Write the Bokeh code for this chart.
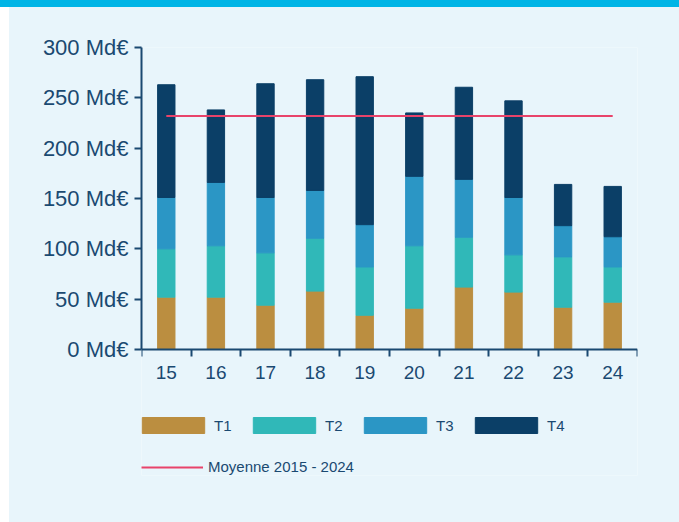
from bokeh.plotting import figure
from bokeh.models import FixedTicker, Legend, LegendItem, ColumnDataSource, Range1d
from bokeh.embed import file_html
from bokeh.resources import INLINE

# ---- data ----
years = ["15", "16", "17", "18", "19", "20", "21", "22", "23", "24"]
quarters = ["T1", "T2", "T3", "T4"]
t1 = [52, 52, 44, 58, 34, 41, 62, 57, 42, 47]
t2 = [48, 51, 52, 52.5, 48, 62, 49.5, 37, 50, 35]
t3 = [51, 63, 55, 47.5, 42, 69, 57.5, 57, 31, 30]
t4 = [112, 72, 113, 110, 147, 63, 91.5, 96, 41, 50]
moyenne = 232
moyenne_label = "Moyenne 2015 - 2024"
y_ticks = [0, 50, 100, 150, 200, 250, 300]
y_tick_labels = ["0 Md€", "50 Md€", "100 Md€", "150 Md€", "200 Md€", "250 Md€", "300 Md€"]

# ---- style / layout ----
colors = ["#bb8e40", "#30b8b8", "#2b96c5", "#0b3f67"]
line_color = "#e8436a"
bg = "#e8f5fb"
ink = "#1a4971"
font = "Liberation Sans"

W, H = 663, 506
top_px, zero_px, bottom_border = 47, 349, 31
frame_bottom = H - bottom_border
ppu = (zero_px - top_px) / (y_ticks[-1] - y_ticks[0])
y_start = y_ticks[-1] - (frame_bottom - top_px) / ppu

x = list(range(len(years)))
src = ColumnDataSource(dict(x=x, T1=t1, T2=t2, T3=t3, T4=t4))

p = figure(width=W, height=H, output_backend="svg", toolbar_location=None,
           x_range=Range1d(-0.5, len(years) - 0.5), y_range=Range1d(y_start, y_ticks[-1]),
           min_border_left=141, min_border_right=26, min_border_top=top_px,
           min_border_bottom=bottom_border)
p.background_fill_color = bg
p.border_fill_color = bg
p.outline_line_color = None
p.xgrid.visible = False
p.ygrid.visible = False

bars = p.vbar_stack(quarters, x="x", width=0.35, color=colors, source=src)
avg = p.line(x=[x[0], x[-1]], y=[moyenne, moyenne], line_color=line_color, line_width=2)

# x axis (drawn at y = 0)
xa = p.xaxis[0]
xa.fixed_location = y_ticks[0]
xa.ticker = FixedTicker(ticks=x, minor_ticks=[i - 0.5 for i in range(len(years) + 1)])
xa.major_label_overrides = {i: yv for i, yv in enumerate(years)}
xa.major_tick_line_color = None
xa.major_tick_out = 0
xa.major_tick_in = 0
xa.minor_tick_out = 7
xa.minor_tick_in = 0
xa.minor_tick_line_color = ink
xa.minor_tick_line_width = 2
xa.major_label_standoff = 9
xa.major_label_text_font_size = "19px"
xa.axis_line_color = ink
xa.axis_line_width = 2

# y axis
ya = p.yaxis[0]
ya.bounds = (y_ticks[0], y_ticks[-1])
ya.ticker = FixedTicker(ticks=y_ticks)
ya.major_label_overrides = {t: l for t, l in zip(y_ticks, y_tick_labels)}
ya.minor_tick_line_color = None
ya.major_tick_out = 7
ya.major_tick_in = 0
ya.major_tick_line_color = ink
ya.major_tick_line_width = 2
ya.major_label_standoff = 6
ya.major_label_text_font_size = "22px"
ya.axis_line_color = ink
ya.axis_line_width = 2

for ax in (xa, ya):
    ax.major_label_text_font = font
    ax.major_label_text_color = ink

common = dict(orientation="horizontal", padding=0, margin=0, background_fill_alpha=0,
              border_line_color=None, label_text_font_size="15px",
              label_text_color=ink, label_text_font=font)

leg1 = Legend(items=[LegendItem(label=q, renderers=[r]) for q, r in zip(quarters, bars)],
              location=(-7, 40), glyph_width=78, glyph_height=20, label_standoff=2,
              spacing=11, **common)
leg2 = Legend(items=[LegendItem(label=moyenne_label, renderers=[avg])],
              location=(0, 0), glyph_width=62, glyph_height=14, label_standoff=5,
              spacing=10, **common)
p.add_layout(leg1)
p.add_layout(leg2)

p.stylesheets = [
    ":host { box-shadow: 8px 8px 0 8px #e8f5fb; }",
    ":host::before { content: ''; position: fixed; top: 0; left: 0; width: 100vw; height: 7px; background: #00b5e6; z-index: 10; }",
    ":host::after { content: ''; position: fixed; top: 7px; left: 0; width: 9px; height: 100vh; background: #ffffff; z-index: 10; }",
]

open("out.html", "w").write(file_html(p, INLINE))
